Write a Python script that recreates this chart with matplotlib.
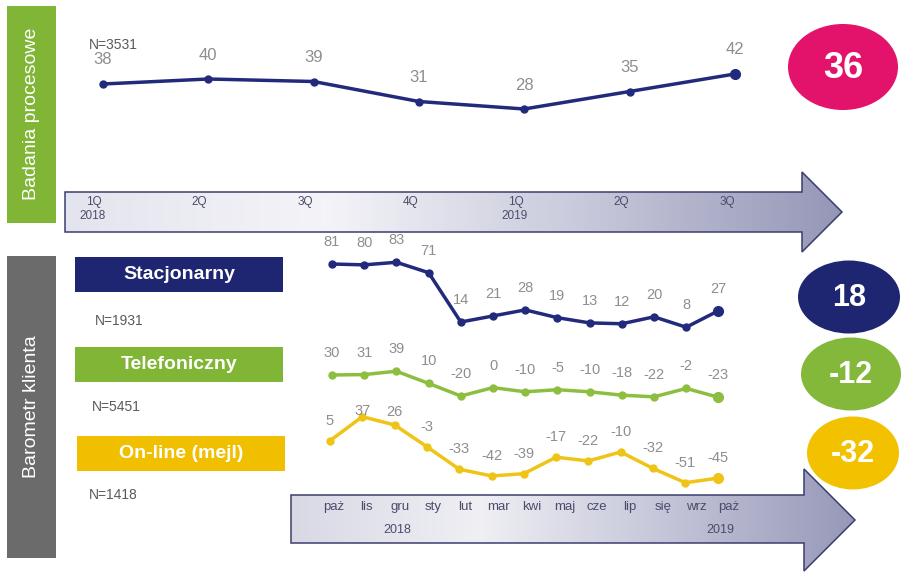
import matplotlib
matplotlib.use('Agg')
import matplotlib.pyplot as plt
from matplotlib.patches import Polygon, Ellipse, Rectangle
from matplotlib.colors import LinearSegmentedColormap
import numpy as np

plt.rcParams['font.family'] = ['Liberation Sans', 'DejaVu Sans']

# ---------------- data ----------------
quarters = ['1Q', '2Q', '3Q', '4Q', '1Q', '2Q', '3Q']
quarter_years = ['2018', '', '', '', '2019', '', '']
proc_values = [38, 40, 39, 31, 28, 35, 42]
proc_total = 36
proc_n = 'N=3531'

months = ['paż', 'lis', 'gru', 'sty', 'lut', 'mar', 'kwi', 'maj', 'cze', 'lip', 'się', 'wrz', 'paż']
month_years = ['', '', '2018', '', '', '', '', '', '', '', '', '', '2019']
stac_values = [81, 80, 83, 71, 14, 21, 28, 19, 13, 12, 20, 8, 27]
tel_values = [30, 31, 39, 10, -20, 0, -10, -5, -10, -18, -22, -2, -23]
onl_values = [5, 37, 26, -3, -33, -42, -39, -17, -22, -10, -32, -51, -45]
channel_names = ['Stacjonarny', 'Telefoniczny', 'On-line (mejl)']
channel_n = ['N=1931', 'N=5451', 'N=1418']
channel_totals = [18, -12, -32]

# ---------------- style ----------------
W, H = 901, 572
NAVY = '#1e2571'
GREEN = '#80b535'
YELLOW = '#f0c000'
PINK = '#e3136c'
GREY_BOX = '#6b6b6b'
LBL = '#8e8e8e'
TICK = '#4a4c6c'

fig = plt.figure(figsize=(W / 100, H / 100), dpi=100)
bg = fig.add_axes([0, 0, 1, 1])
bg.axis('off')


def grad_arrow(pts, colors):
    poly = Polygon(pts, closed=True, facecolor='none', edgecolor='#3a3e6e', lw=1.1, zorder=3)
    bg.add_patch(poly)
    xs = [p[0] for p in pts]
    ys = [p[1] for p in pts]
    cmap = LinearSegmentedColormap.from_list('g', colors)
    grad = np.linspace(0, 1, 256).reshape(1, -1)
    im = bg.imshow(grad, cmap=cmap, extent=[min(xs), max(xs), max(ys), min(ys)],
                   aspect='auto', zorder=2, interpolation='bicubic')
    im.set_clip_path(poly)


# side boxes
bg.add_patch(Rectangle((7, 6), 49, 217, facecolor=GREEN, edgecolor='none', zorder=2))
bg.text(31.5, 114, 'Badania procesowe', rotation=90, color='white', fontsize=14,
        ha='center', va='center', zorder=4)
bg.add_patch(Rectangle((7, 256), 49, 302, facecolor=GREY_BOX, edgecolor='none', zorder=2))
bg.text(31.5, 407, 'Barometr klienta', rotation=90, color='white', fontsize=14,
        ha='center', va='center', zorder=4)

# arrows
grad_arrow([(65, 192), (802, 192), (802, 172), (842, 212), (802, 252), (802, 232), (65, 232)],
           ['#e4e4ee', '#f4f4f8', '#c8c9db', '#9597b7'])
grad_arrow([(291, 495), (804, 495), (804, 469), (855, 520), (804, 571), (804, 543), (291, 543)],
           ['#d9d9e6', '#efeff4', '#c4c5d8', '#9698b8'])

# quarter labels in top arrow
for i, (q, yr) in enumerate(zip(quarters, quarter_years)):
    x = 94 + 105.5 * i
    bg.text(x, 202, q, fontsize=8.5, color=TICK, ha='center', va='center', zorder=4)
    if yr:
        bg.text(x - 1, 216, yr, fontsize=8.5, color=TICK, ha='center', va='center', zorder=4)

# month labels in bottom arrow
for i, (m, yr) in enumerate(zip(months, month_years)):
    x = 334 + 32.9 * i
    bg.text(x, 507, m, fontsize=9.5, color=TICK, ha='center', va='center', zorder=4)
    if yr:
        bg.text(x - 3 if i < 5 else x - 8, 530, yr, fontsize=9, color=TICK, ha='center', va='center', zorder=4)

# channel boxes and N labels
box_cols = [NAVY, GREEN, YELLOW]
box_y = [257, 347, 436]
box_x = [75, 75, 77]
n_y = [321, 407, 495]
n_x = [95, 92, 89]
for name, col, bx, by, nt, nx, ny in zip(channel_names, box_cols, box_x, box_y, channel_n, n_x, n_y):
    bg.add_patch(Rectangle((bx, by), 208, 35, facecolor=col, edgecolor='none', zorder=2))
    bg.text(bx + 104, by + 17.5, name, color='white', fontsize=14, fontweight='bold',
            ha='center', va='center', zorder=4)
    bg.text(nx, ny, nt, color='#5a5a5a', fontsize=10, ha='left', va='center', zorder=4)

bg.text(89, 45, proc_n, color='#5a5a5a', fontsize=10, ha='left', va='center', zorder=4)

# summary ellipses
bg.add_patch(Ellipse((843, 67), 110, 86, facecolor=PINK, edgecolor='none', zorder=5))
bg.text(843, 68, str(proc_total), color='white', fontsize=26, fontweight='bold',
        ha='center', va='center', zorder=6)
ell_cols = [NAVY, '#84b83a', '#f2c200']
ell_c = [(849, 297), (851, 374), (853, 453)]
ell_w = [102, 100, 92]
ell_z = [5, 5, 1.5]
for tot, col, (cx, cy), ew, ez in zip(channel_totals, ell_cols, ell_c, ell_w, ell_z):
    bg.add_patch(Ellipse((cx, cy), ew, 73, facecolor=col, edgecolor='none', zorder=ez))
    bg.text(cx, cy + 1, str(tot), color='white', fontsize=22, fontweight='bold',
            ha='center', va='center', zorder=6)

bg.set_xlim(0, W)
bg.set_ylim(H, 0)


def overlay(x0, dx, y0, v0, k):
    ax = fig.add_axes([0, 0, 1, 1])
    ax.axis('off')
    ax.patch.set_alpha(0)
    ax.set_xlim(-x0 / dx, (W - x0) / dx)
    ax.set_ylim(v0 + (y0 - H) / k, v0 + y0 / k)
    return ax


def draw_series(ax, values, color, lw, fs, dy, special=None):
    xs = np.arange(len(values))
    ax.plot(xs, values, color=color, lw=lw, marker='o', markersize=5, solid_joinstyle='round',
            solid_capstyle='round')
    ax.plot(xs[-1:], values[-1:], 'o', color=color, markersize=7)
    for i, v in enumerate(values):
        off = dy if special is None or i not in special else special[i]
        ax.annotate(str(v), (i, v), xytext=(0, off), textcoords='offset pixels',
                    ha='center', va='center', fontsize=fs, color=LBL)


ax_top = overlay(103, 105.3, 84, 38, 2.5)
draw_series(ax_top, proc_values, '#222a7c', 2.5, 12, 24)

ax_s = overlay(332, 32.2, 264, 81, 0.866)
draw_series(ax_s, stac_values, '#222a7c', 2.5, 10.5, 22)

ax_t = overlay(332, 32.2, 375, 30, 0.42)
draw_series(ax_t, tel_values, '#8cbf3f', 2.5, 10.5, 22)

ax_o = overlay(330, 32.3, 416.7, 37, 0.75)
draw_series(ax_o, onl_values, '#efc417', 2.5, 10.5, 20, special={1: 6, 2: 13})

fig.savefig('out.png', dpi=100)
